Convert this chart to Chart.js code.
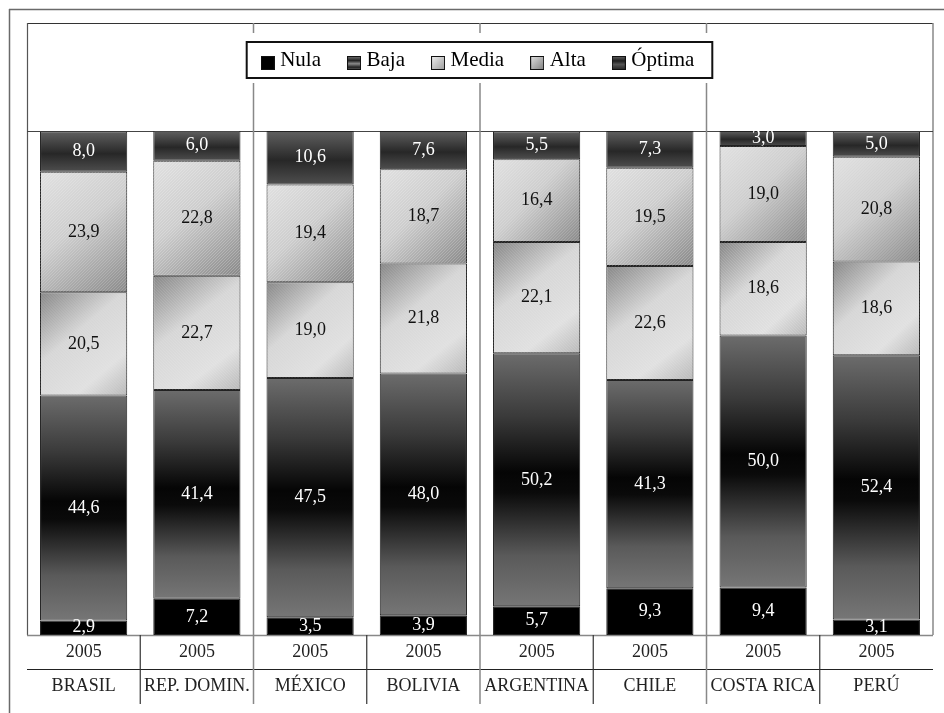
<!DOCTYPE html>
<html>
<head>
<meta charset="utf-8">
<script src="https://cdn.jsdelivr.net/npm/chart.js@4.4.1/dist/chart.umd.min.js"></script>
<style>
  html, body { margin: 0; padding: 0; background: #fff; }
  canvas { display: block; }
</style>
</head>
<body>
<canvas id="chart" width="944" height="713"></canvas>
<script>
// Categories and series (percentages per country)
const countries = ['BRASIL', 'REP. DOMIN.', 'MÉXICO', 'BOLIVIA', 'ARGENTINA', 'CHILE', 'COSTA RICA', 'PERÚ'];
const years = ['2005', '2005', '2005', '2005', '2005', '2005', '2005', '2005'];
const seriesNames = ['Nula', 'Baja', 'Media', 'Alta', 'Óptima'];
const nula   = [2.9, 7.2, 3.5, 3.9, 5.7, 9.3, 9.4, 3.1];
const baja   = [44.6, 41.4, 47.5, 48.0, 50.2, 41.3, 50.0, 52.4];
const media  = [20.5, 22.7, 19.0, 21.8, 22.1, 22.6, 18.6, 18.6];
const alta   = [23.9, 22.8, 19.4, 18.7, 16.4, 19.5, 19.0, 20.8];
const optima = [8.0, 6.0, 10.6, 7.6, 5.5, 7.3, 3.0, 5.0];

const SERIF = "'Liberation Serif', 'Times New Roman', serif";
const BAR_PCT = 0.77;
const LEGEND_PAD = 31;

// Segment geometry from the scales, used to build per-bar gradients
function segmentRect(chart, di, i) {
  const xs = chart.scales.x, ys = chart.scales.y;
  let base = 0;
  for (let k = 0; k < di; k++) base += chart.data.datasets[k].data[i];
  const top = base + chart.data.datasets[di].data[i];
  const step = xs.getPixelForValue(1) - xs.getPixelForValue(0);
  const xc = xs.getPixelForValue(i);
  return {
    left: xc - step * BAR_PCT / 2, right: xc + step * BAR_PCT / 2,
    top: ys.getPixelForValue(Math.min(top, 100)), bottom: ys.getPixelForValue(base)
  };
}

function fill(kind, fallback) {
  return (c) => {
    const chart = c.chart;
    if (c.type !== 'data' || !chart.chartArea || !chart.scales.x || !chart.scales.y) return fallback;
    const r = segmentRect(chart, c.datasetIndex, c.dataIndex);
    const g = chart.ctx;
    let grad;
    if (kind === 'baja') {
      grad = g.createLinearGradient(0, r.top, 0, r.bottom);
      grad.addColorStop(0, '#6c6c6c');
      grad.addColorStop(0.25, '#3a3a3a');
      grad.addColorStop(0.47, '#050505');
      grad.addColorStop(0.55, '#0a0a0a');
      grad.addColorStop(0.8, '#5a5a5a');
      grad.addColorStop(1, '#767676');
    } else if (kind === 'optima') {
      grad = g.createLinearGradient(0, r.top, 0, r.bottom);
      grad.addColorStop(0, '#606060');
      grad.addColorStop(0.55, '#272727');
      grad.addColorStop(1, '#4e4e4e');
    } else if (kind === 'alta') {
      grad = g.createLinearGradient(r.left, r.top, r.right, r.bottom);
      grad.addColorStop(0, '#e0e0e0');
      grad.addColorStop(0.45, '#cdcdcd');
      grad.addColorStop(1, '#888888');
    } else {
      grad = g.createLinearGradient(r.left, r.top, r.right, r.bottom);
      grad.addColorStop(0, '#858585');
      grad.addColorStop(0.4, '#d6d6d6');
      grad.addColorStop(0.75, '#e0e0e0');
      grad.addColorStop(1, '#b8b8b8');
    }
    return grad;
  };
}

// Legend swatches (box sits slightly below the text middle)
function makeIcon(kind) {
  const cv = document.createElement('canvas');
  cv.width = 14; cv.height = 20;
  const g = cv.getContext('2d');
  const oy = 6;
  let grad;
  if (kind === 'nula') {
    g.fillStyle = '#000';
  } else if (kind === 'baja') {
    grad = g.createLinearGradient(0, oy, 0, oy + 14);
    grad.addColorStop(0, '#777'); grad.addColorStop(0.33, '#222');
    grad.addColorStop(0.55, '#8a8a8a'); grad.addColorStop(0.8, '#222'); grad.addColorStop(1, '#666');
    g.fillStyle = grad;
  } else if (kind === 'media') {
    grad = g.createLinearGradient(0, oy, 14, oy + 14);
    grad.addColorStop(0, '#f2f2f2'); grad.addColorStop(1, '#9a9a9a');
    g.fillStyle = grad;
  } else if (kind === 'alta') {
    grad = g.createLinearGradient(0, oy, 14, oy + 14);
    grad.addColorStop(0, '#e4e4e4'); grad.addColorStop(1, '#7e7e7e');
    g.fillStyle = grad;
  } else {
    grad = g.createLinearGradient(0, oy, 0, oy + 14);
    grad.addColorStop(0, '#666'); grad.addColorStop(0.35, '#1e1e1e');
    grad.addColorStop(0.6, '#555'); grad.addColorStop(1, '#222');
    g.fillStyle = grad;
  }
  g.fillRect(0, oy, 14, 14);
  g.strokeStyle = '#111';
  g.lineWidth = 1;
  g.strokeRect(0.5, oy + 0.5, 13, 13);
  return cv;
}
const legendIcons = ['nula', 'baja', 'media', 'alta', 'optima'].map(makeIcon);

// Frame, separators and the boxed legend background
const framePlugin = {
  id: 'frame',
  beforeInit(chart) {
    // leave an empty band under the legend, above the bars
    const lg = chart.legend;
    const baseFit = lg.fit;
    lg.fit = function () { baseFit.call(this); this.height += 50.5; };
  },
  beforeDraw(chart) {
    const g = chart.ctx;
    const ca = chart.chartArea;
    const xs = chart.scales.x;
    const step = xs.getPixelForValue(1) - xs.getPixelForValue(0);
    const edges = countries.map((_, i) => xs.getPixelForValue(i) + step / 2);
    const headerTop = 23;
    const rowMid = xs.top + (xs.bottom - xs.top) / 2;
    const line = (x1, y1, x2, y2, color, w) => {
      g.beginPath(); g.strokeStyle = color; g.lineWidth = w;
      g.moveTo(x1, y1); g.lineTo(x2, y2); g.stroke();
    };
    g.save();
    g.fillStyle = '#fff';
    g.fillRect(0, 0, chart.width, chart.height);
    // outer page frame
    line(9, 9.5, chart.width, 9.5, '#6a6a6a', 1.5);
    line(9.5, 9, 9.5, chart.height, '#6a6a6a', 1.5);
    // inner frame
    line(ca.left, headerTop + 0.5, ca.right, headerTop + 0.5, '#333', 1.2);
    line(ca.left + 0.5, headerTop, ca.left + 0.5, ca.bottom, '#555', 1.2);
    line(ca.right, headerTop, ca.right, ca.bottom, '#888', 1.5);
    line(ca.left, ca.top + 0.5, ca.right, ca.top + 0.5, '#444', 1.2);
    line(ca.left, ca.bottom + 0.5, ca.right, ca.bottom + 0.5, '#888', 1.5);
    line(ca.left, rowMid, ca.right, rowMid, '#222', 1.2);
    // separators between country pairs and between countries in the axis rows
    edges.slice(0, -1).forEach((ex, i) => {
      if (i % 2 === 1) line(ex, headerTop, ex, xs.bottom, '#888', 1.5);
      else line(ex, ca.bottom, ex, xs.bottom, '#333', 1.2);
    });
    // legend box
    const lg = chart.legend;
    const hb = lg.legendHitBoxes;
    if (hb && hb.length) {
      const last = hb[hb.length - 1];
      const cy = lg.top + LEGEND_PAD + 10.5;
      const bl = hb[0].left - 19, br = last.left + last.width + 18;
      g.fillStyle = '#fff';
      g.fillRect(bl - 4, cy - 27, br - bl + 8, 50);
      g.strokeStyle = '#111';
      g.lineWidth = 2;
      g.strokeRect(bl, cy - 18, br - bl, 36);
    }
    g.restore();
  }
};

// Texture on the light segments and the value labels
const labelPlugin = {
  id: 'valueLabels',
  afterDatasetsDraw(chart) {
    const g = chart.ctx;
    g.save();
    [2, 3].forEach(di => {
      chart.getDatasetMeta(di).data.forEach(el => {
        const p = el.getProps(['x', 'y', 'base', 'width'], true);
        const l = p.x - p.width / 2, t = Math.min(p.y, p.base), h = Math.abs(p.base - p.y);
        g.save();
        g.beginPath(); g.rect(l, t, p.width, h); g.clip();
        g.lineWidth = 1;
        for (let k = -h - 10; k < p.width + 10; k += 3) {
          g.strokeStyle = di === 3 ? 'rgba(255,255,255,0.22)' : 'rgba(255,255,255,0.14)';
          g.beginPath();
          if (di === 3) { g.moveTo(l + k, t + h); g.lineTo(l + k + h, t); }
          else { g.moveTo(l + k, t); g.lineTo(l + k + h, t + h); }
          g.stroke();
        }
        g.restore();
      });
    });
    g.font = '18px ' + SERIF;
    g.textAlign = 'center';
    g.textBaseline = 'middle';
    chart.data.datasets.forEach((ds, di) => {
      chart.getDatasetMeta(di).data.forEach((el, i) => {
        const p = el.getProps(['x', 'y', 'base'], true);
        g.fillStyle = (di === 2 || di === 3) ? '#111' : '#fff';
        g.fillText(ds.data[i].toFixed(1).replace('.', ','), p.x, (p.y + p.base) / 2);
      });
    });
    g.restore();
  }
};

const seriesData = [nula, baja, media, alta, optima];
const fills = [
  '#000',
  fill('baja', '#333'),
  fill('media', '#ccc'),
  fill('alta', '#bbb'),
  fill('optima', '#444')
];

new Chart(document.getElementById('chart'), {
  type: 'bar',
  data: {
    labels: countries.map((c, i) => [years[i], c]),
    datasets: seriesNames.map((name, i) => ({
      label: name,
      data: seriesData[i],
      backgroundColor: fills[i],
      borderColor: '#222',
      borderWidth: 1,
      borderSkipped: false,
      barPercentage: BAR_PCT,
      categoryPercentage: 1
    }))
  },
  options: {
    responsive: false,
    animation: false,
    events: [],
    devicePixelRatio: 1,
    layout: { padding: { top: 18.5, left: 27, right: 11, bottom: 9 } },
    plugins: {
      tooltip: { enabled: false },
      legend: {
        position: 'top',
        labels: {
          usePointStyle: true,
          boxWidth: 4,
          boxHeight: 14,
          padding: LEGEND_PAD,
          color: '#000',
          font: { family: SERIF, size: 21 },
          generateLabels: (chart) => chart.data.datasets.map((ds, i) => ({
            text: ds.label,
            pointStyle: legendIcons[i],
            datasetIndex: i,
            hidden: false,
            fontColor: '#000',
            lineWidth: 0,
            strokeStyle: 'transparent',
            fillStyle: 'transparent'
          }))
        }
      }
    },
    scales: {
      x: {
        stacked: true,
        offset: true,
        grid: { display: false, drawTicks: false },
        border: { display: false },
        ticks: {
          autoSkip: false,
          maxRotation: 0,
          padding: 0,
          color: '#222',
          font: { family: SERIF, size: 18, lineHeight: 34.5 / 18 }
        }
      },
      y: {
        stacked: true,
        display: false,
        min: 0,
        max: 100
      }
    }
  },
  plugins: [framePlugin, labelPlugin]
});
</script>
</body>
</html>
